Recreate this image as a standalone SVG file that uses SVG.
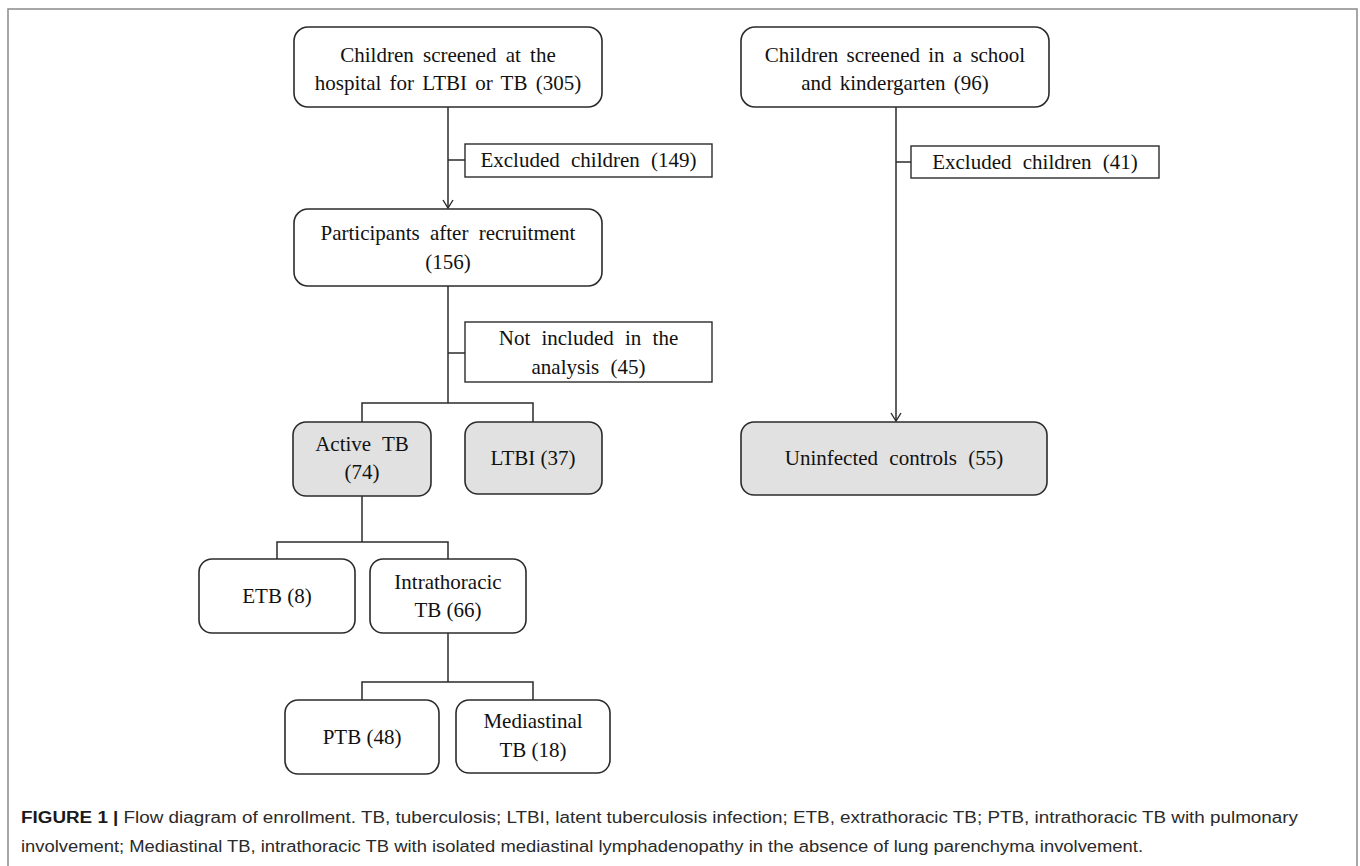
<svg xmlns="http://www.w3.org/2000/svg" width="1360" height="866" viewBox="0 0 1360 866">
<defs>
<style>
.box{fill:#fff;stroke:#2b2b2b;stroke-width:1.6}
.grey{fill:#e1e1e1;stroke:#2b2b2b;stroke-width:1.6}
.note{fill:#fff;stroke:#2b2b2b;stroke-width:1.4}
.t{font-family:"Liberation Serif","Times New Roman",serif;font-size:21px;fill:#111;text-anchor:middle}
.ln{fill:none;stroke:#2b2b2b;stroke-width:1.5}
.cap{font-family:"Liberation Sans",Arial,sans-serif;font-size:16px;fill:#2a2a2a}
</style>
<marker id="arr" viewBox="0 0 12 12" refX="11" refY="6" markerWidth="12" markerHeight="12" markerUnits="userSpaceOnUse" orient="auto">
<path d="M3 1 L11 6 L3 11" fill="none" stroke="#2b2b2b" stroke-width="1.4"/>
</marker>
</defs>
<rect x="0" y="0" width="1360" height="866" fill="#fff"/>
<rect x="8" y="9" width="1349" height="880" fill="none" stroke="#8a8a8a" stroke-width="1.5"/>

<g id="connectors">
<path class="ln" d="M448 107 V208" marker-end="url(#arr)"/>
<path class="ln" d="M448 160 H465"/>
<path class="ln" d="M448 286 V403"/>
<path class="ln" d="M448 353 H465"/>
<path class="ln" d="M362 422 V403 H533 V422"/>
<path class="ln" d="M362 496 V542"/>
<path class="ln" d="M277 559 V542 H448 V559"/>
<path class="ln" d="M448 633 V682"/>
<path class="ln" d="M362 700 V682 H533 V700"/>
<path class="ln" d="M896 107 V421" marker-end="url(#arr)"/>
<path class="ln" d="M896 162 H911"/>
</g>

<g id="n-hospital">
<rect class="box" x="294" y="27" width="308" height="80" rx="14"/>
<text class="t" x="448" y="62" word-spacing="4">Children screened at the</text>
<text class="t" x="448" y="90" word-spacing="3">hospital for LTBI or TB (305)</text>
</g>
<g id="n-excluded149">
<rect class="note" x="465" y="144" width="247" height="33"/>
<text class="t" x="588.5" y="167" word-spacing="6">Excluded children (149)</text>
</g>
<g id="n-participants">
<rect class="box" x="294" y="209" width="308" height="77" rx="14"/>
<text class="t" x="448" y="240" word-spacing="5">Participants after recruitment</text>
<text class="t" x="448" y="269">(156)</text>
</g>
<g id="n-notincluded">
<rect class="note" x="465" y="322" width="247" height="60"/>
<text class="t" x="588.5" y="345" word-spacing="6">Not included in the</text>
<text class="t" x="588.5" y="374" word-spacing="6">analysis (45)</text>
</g>
<g id="n-active">
<rect class="grey" x="293" y="422" width="138" height="74" rx="13"/>
<text class="t" x="362" y="451" word-spacing="6">Active TB</text>
<text class="t" x="362" y="479">(74)</text>
</g>
<g id="n-ltbi">
<rect class="grey" x="465" y="422" width="137" height="72" rx="13"/>
<text class="t" x="533" y="465">LTBI (37)</text>
</g>
<g id="n-etb">
<rect class="box" x="199" y="559" width="156" height="74" rx="13"/>
<text class="t" x="277" y="603">ETB (8)</text>
</g>
<g id="n-intra">
<rect class="box" x="370" y="559" width="156" height="74" rx="13"/>
<text class="t" x="448" y="589">Intrathoracic</text>
<text class="t" x="448" y="617">TB (66)</text>
</g>
<g id="n-ptb">
<rect class="box" x="285" y="700" width="154" height="74" rx="13"/>
<text class="t" x="362" y="744">PTB (48)</text>
</g>
<g id="n-mediastinal">
<rect class="box" x="456" y="700" width="154" height="73" rx="13"/>
<text class="t" x="533" y="728">Mediastinal</text>
<text class="t" x="533" y="757">TB (18)</text>
</g>
<g id="n-school">
<rect class="box" x="741" y="27" width="308" height="80" rx="14"/>
<text class="t" x="895" y="62" word-spacing="3">Children screened in a school</text>
<text class="t" x="895" y="90" word-spacing="3">and kindergarten (96)</text>
</g>
<g id="n-excluded41">
<rect class="note" x="911" y="146" width="248" height="32"/>
<text class="t" x="1035" y="169" word-spacing="6">Excluded children (41)</text>
</g>
<g id="n-uninfected">
<rect class="grey" x="741" y="422" width="306" height="73" rx="13"/>
<text class="t" x="894" y="465" word-spacing="6">Uninfected controls (55)</text>
</g>

<g id="caption">
<text class="cap" x="21" y="823" textLength="1277" lengthAdjust="spacingAndGlyphs"><tspan font-weight="bold" fill="#1a1a1a">FIGURE 1 |</tspan> Flow diagram of enrollment. TB, tuberculosis; LTBI, latent tuberculosis infection; ETB, extrathoracic TB; PTB, intrathoracic TB with pulmonary</text>
<text class="cap" x="21" y="852" textLength="1122" lengthAdjust="spacingAndGlyphs">involvement; Mediastinal TB, intrathoracic TB with isolated mediastinal lymphadenopathy in the absence of lung parenchyma involvement.</text>
</g>
</svg>
